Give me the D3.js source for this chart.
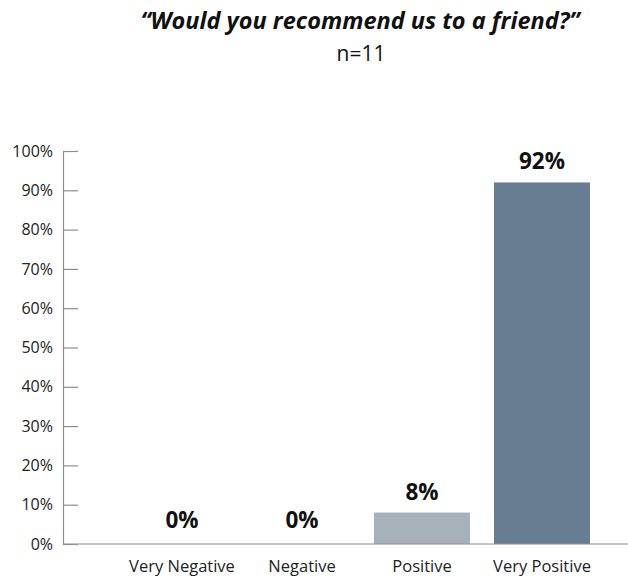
<!DOCTYPE html>
<html>
<head>
<meta charset="utf-8">
<script src="https://cdn.jsdelivr.net/npm/d3@7"></script>
<style>
  body { margin: 0; background: #fff; }
  svg text { font-family: "Open Sans", "Noto Sans", sans-serif; }
</style>
</head>
<body>
<div id="chart"></div>
<script>
const categories = ["Very Negative", "Negative", "Positive", "Very Positive"];
const values = [0, 0, 8, 92];
const barColors = ["#a7b1ba", "#a7b1ba", "#a7b1ba", "#677d91"];
const yTicks = [0, 10, 20, 30, 40, 50, 60, 70, 80, 90, 100];
const title = "\u201CWould you recommend us to a friend?\u201D";
const subtitle = "n=11";

const svg = d3.select("#chart")
  .append("svg")
  .attr("width", 628)
  .attr("height", 578);

const x = d3.scaleBand()
  .domain(categories)
  .range([122, 602])
  .paddingInner(0.2)
  .paddingOuter(0.1);

const y = d3.scaleLinear()
  .domain([0, 100])
  .range([544, 151]);

// title
svg.append("text")
  .attr("x", 360)
  .attr("y", 29)
  .attr("text-anchor", "middle")
  .style("font-size", "23.5px")
  .style("font-weight", "bold")
  .style("font-style", "italic")
  .attr("fill", "#111")
  .text(title);

svg.append("text")
  .attr("x", 361)
  .attr("y", 61)
  .attr("text-anchor", "middle")
  .style("font-size", "21px")
  .attr("fill", "#111")
  .text(subtitle);

// y axis, ticks point inward
const yAxis = svg.append("g")
  .attr("transform", "translate(63,0)")
  .call(d3.axisLeft(y)
    .tickValues(yTicks)
    .tickSize(-15)
    .tickSizeOuter(0)
    .tickPadding(10)
    .tickFormat(d => d + "%"));

yAxis.selectAll("path, line").attr("stroke", "#8c8c8c").attr("stroke-width", 1.2);
yAxis.selectAll("text")
  .style("font-size", "16px")
  .attr("fill", "#222");

// bars
svg.selectAll("rect.bar")
  .data(values)
  .enter()
  .append("rect")
  .attr("class", "bar")
  .attr("x", (d, i) => x(categories[i]))
  .attr("y", d => y(d))
  .attr("width", x.bandwidth())
  .attr("height", d => y(0) - y(d))
  .attr("fill", (d, i) => barColors[i]);

// baseline
svg.append("line")
  .attr("x1", 63)
  .attr("x2", 628)
  .attr("y1", y(0))
  .attr("y2", y(0))
  .attr("stroke", "#9a9090")
  .attr("stroke-width", 1.2);

// value labels
svg.selectAll("text.val")
  .data(values)
  .enter()
  .append("text")
  .attr("class", "val")
  .attr("x", (d, i) => x(categories[i]) + x.bandwidth() / 2)
  .attr("y", d => y(d) - (d === 0 ? 16 : 13))
  .attr("text-anchor", "middle")
  .style("font-size", "22.5px")
  .style("font-weight", "bold")
  .attr("fill", "#111")
  .text(d => d + "%");

// category labels
svg.selectAll("text.cat")
  .data(categories)
  .enter()
  .append("text")
  .attr("class", "cat")
  .attr("x", d => x(d) + x.bandwidth() / 2)
  .attr("y", 572)
  .attr("text-anchor", "middle")
  .style("font-size", "16.5px")
  .attr("fill", "#222")
  .text(d => d);
</script>
</body>
</html>
